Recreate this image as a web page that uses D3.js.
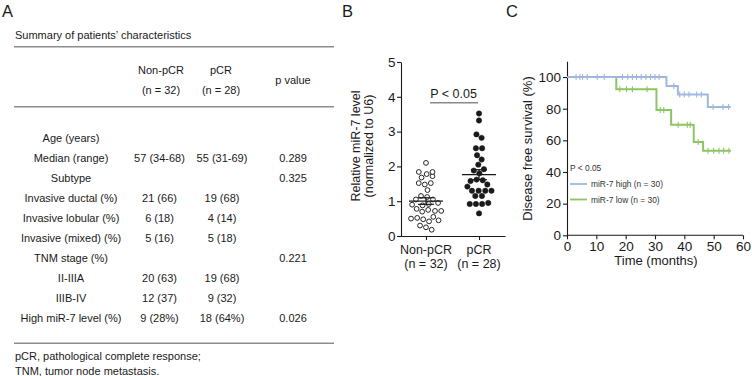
<!DOCTYPE html>
<html>
<head>
<meta charset="utf-8">
<script src="https://cdn.jsdelivr.net/npm/d3@7"></script>
<style>
  html, body { margin: 0; padding: 0; background: #fff; }
  svg { display: block; font-family: "Liberation Sans", Arial, sans-serif; }
</style>
</head>
<body>
<div id="chart"></div>
<script>
//data : panel A table
const tableTitle = "Summary of patients\u2019 characteristics";
const groupHeaders = [["Non-pCR", "(n = 32)"], ["pCR", "(n = 28)"]];
const pHeader = "p value";
const rowLabels = [
  "Age (years)", "Median (range)", "Subtype", "Invasive ductal (%)",
  "Invasive lobular (%)", "Invasive (mixed) (%)", "TNM stage (%)",
  "II-IIIA", "IIIB-IV", "High miR-7 level (%)",
];
const nonPcrCol = ["", "57 (34-68)", "", "21 (66)", "6 (18)", "5 (16)", "", "20 (63)", "12 (37)", "9 (28%)"];
const pcrCol = ["", "55 (31-69)", "", "19 (68)", "4 (14)", "5 (18)", "", "19 (68)", "9 (32)", "18 (64%)"];
const pValueCol = ["", "0.289", "0.325", "", "", "", "0.221", "", "", "0.026"];
const footnotes = ["pCR, pathological complete response;", "TNM, tumor node metastasis."];

//data : panel B scatter
const groups = ["Non-pCR", "pCR"];
const groupN = ["(n = 32)", "(n = 28)"];
const nonPcrValues = [
  2.1, 1.84, 1.78, 1.68, 1.72, 1.84, 1.52, 1.48, 1.52, 1.32, 1.15, 1.12,
  1.05, 1.05, 0.95, 0.92, 0.9, 0.88, 0.72, 0.72, 0.7, 0.75, 0.78, 0.55,
  0.5, 0.45, 0.48, 0.52, 0.42, 0.3, 0.25, 0.18,
];
const pcrValues = [
  3.52, 3.32, 2.92, 2.82, 2.52, 2.52, 2.32, 2.2, 2.05, 1.92, 1.88, 1.8,
  1.62, 1.6, 1.58, 1.48, 1.42, 1.3, 1.3, 1.3, 1.3, 1.15, 1.15, 0.95,
  0.92, 0.92, 0.92, 0.65,
];
const bTicks = [0, 1, 2, 3, 4, 5];
const bSig = "P < 0.05";

//data : panel C kaplan-meier
const highStepTimes = [0, 33.9, 37.8, 48.0];
const highStepSurv = [100, 94.4, 88.9, 81.0];
const highEnd = 55.8;
const highCensor = [3.1, 4.4, 5.3, 6.9, 10.3, 12.7, 18.9, 20.7, 22.3, 23.7, 25.3, 26.9, 28.5, 30.0, 31.4, 36.4, 38.4, 40.0, 41.6, 44.2, 45.8, 49.8, 53.2, 55.1];
const lowStepTimes = [0, 16.8, 30.5, 35.5, 43.2, 46.4];
const lowStepSurv = [100, 92.3, 79.1, 69.9, 58.9, 53.4];
const lowEnd = 55.9;
const lowCensor = [18.0, 20.3, 22.3, 27.3, 31.8, 33.0, 37.9, 41.0, 42.0, 44.7, 48.1, 50.0, 51.8, 53.4, 55.2];
const cXTicks = [0, 10, 20, 30, 40, 50, 60];
const cYTicks = [0, 20, 40, 60, 80, 100];
const legendLabels = ["miR-7 high (n = 30)", "miR-7 low (n = 30)"];
const cSig = "P < 0.05";

const W = 752, H = 376;
const ink = "#1a1a1a";
const blue = "#a0b7df";
const green = "#8cc563";

const svg = d3.select("#chart").append("svg")
  .attr("width", W).attr("height", H)
  .attr("viewBox", `0 0 ${W} ${H}`);

//panel letters
[["A", 2], ["B", 342], ["C", 506]].forEach(([t, x]) => {
  svg.append("text").attr("x", x).attr("y", 17)
    .attr("font-size", 16.5).attr("fill", ink).text(t);
});

//==== panel A ====
const A = svg.append("g").attr("font-size", 11).attr("fill", ink);
const colX = { label: 71, a: 159.5, b: 222, p: 293 };
const ruleColor = "#8c8c8c";

A.append("text").attr("x", 15).attr("y", 38.5).text(tableTitle);
[46.7, 106.7, 343.3].forEach((y) => {
  A.append("line").attr("x1", 14).attr("x2", 334).attr("y1", y).attr("y2", y)
    .attr("stroke", ruleColor).attr("stroke-width", 1.4);
});
groupHeaders.forEach((hd, i) => {
  const t = A.append("text").attr("text-anchor", "middle");
  const cx = i === 0 ? 161 : 221;
  t.append("tspan").attr("x", cx).attr("y", 74).text(hd[0]);
  t.append("tspan").attr("x", cx).attr("y", 94).text(hd[1]);
});
A.append("text").attr("x", colX.p).attr("y", 83.5)
  .attr("text-anchor", "middle").text(pHeader);

const rowY = d3.scaleLinear().domain([0, 1]).range([141.7, 161.7]);
rowLabels.forEach((lab, i) => {
  const y = rowY(i);
  [[lab, colX.label], [nonPcrCol[i], colX.a], [pcrCol[i], colX.b], [pValueCol[i], colX.p]]
    .forEach(([txt, x]) => {
      if (!txt) return;
      A.append("text").attr("x", x).attr("y", y)
        .attr("text-anchor", "middle").text(txt);
    });
});
footnotes.forEach((f, i) => {
  A.append("text").attr("x", 15).attr("y", 360 + i * 14.5).text(f);
});

//==== panel B ====
const B = svg.append("g");
const yB = d3.scaleLinear().domain([0, 5]).range([236, 62]);
const xB = d3.scalePoint().domain(groups).range([400, 505]).padding(0.49);

const yAxB = B.append("g").attr("transform", "translate(401,0)")
  .call(d3.axisLeft(yB).tickValues(bTicks).tickSize(4).tickSizeOuter(0).tickPadding(1.5).tickFormat(d3.format("d")));
const xAxB = B.append("g").attr("transform", "translate(0,236)")
  .call(d3.axisBottom(xB).tickSize(4).tickSizeOuter(0).tickFormat(""));
[yAxB, xAxB].forEach((ax) => {
  ax.select(".domain").attr("stroke", ink).attr("stroke-width", 1.1);
  ax.selectAll(".tick line").attr("stroke", ink).attr("stroke-width", 1.1);
  ax.selectAll("text").attr("font-size", 13.5).attr("fill", ink)
    .attr("font-family", "Liberation Sans, Arial, sans-serif");
});

//group labels
groups.forEach((g, i) => {
  const t = B.append("text").attr("text-anchor", "middle")
    .attr("font-size", 12.5).attr("fill", ink);
  t.append("tspan").attr("x", xB(g)).attr("y", 253.5).text(g);
  t.append("tspan").attr("x", xB(g)).attr("y", 268).text(groupN[i]);
});

//y title
const bTitle = B.append("text").attr("transform", "rotate(-90)")
  .attr("text-anchor", "middle").attr("font-size", 12.5).attr("fill", ink);
bTitle.append("tspan").attr("x", -146).attr("y", 359.5).text("Relative miR-7 level");
bTitle.append("tspan").attr("x", -146).attr("y", 373).text("(normalized to U6)");

//swarm layout: y fixed to value, x pushed apart by collision
function swarm(values, cx) {
  const nodes = values.map((v) => ({ v, x: cx, fy: yB(v), y: yB(v) }));
  const sim = d3.forceSimulation(nodes)
    .force("x", d3.forceX(cx).strength(0.06))
    .force("collide", d3.forceCollide(3.1))
    .stop();
  for (let i = 0; i < 300; i++) sim.tick();
  return nodes;
}

const series = [
  { name: groups[0], values: nonPcrValues, open: true },
  { name: groups[1], values: pcrValues, open: false },
];
series.forEach((s) => {
  const cx = xB(s.name);
  const nodes = swarm(s.values, cx);
  B.append("g").selectAll("circle").data(nodes).join("circle")
    .attr("cx", (d) => d.x).attr("cy", (d) => d.y)
    .attr("r", s.open ? 2.4 : 2.7)
    .attr("fill", s.open ? "white" : ink)
    .attr("stroke", ink).attr("stroke-width", s.open ? 0.95 : 0.5);

  //mean +- sem
  const m = d3.mean(s.values);
  const sem = d3.deviation(s.values) / Math.sqrt(s.values.length);
  const gm = B.append("g").attr("stroke", ink).attr("stroke-width", 1.2);
  gm.append("line").attr("x1", cx - 17).attr("x2", cx + 17).attr("y1", yB(m)).attr("y2", yB(m));
  gm.append("line").attr("x1", cx).attr("x2", cx).attr("y1", yB(m - sem)).attr("y2", yB(m + sem));
  [m - sem, m + sem].forEach((v) => {
    gm.append("line").attr("x1", cx - 8).attr("x2", cx + 8).attr("y1", yB(v)).attr("y2", yB(v));
  });
});

//significance bar
B.append("line").attr("x1", xB(groups[0]) + 4).attr("x2", xB(groups[1]) - 1)
  .attr("y1", 102.7).attr("y2", 102.7).attr("stroke", "#8a8a8a").attr("stroke-width", 1.6);
B.append("text").attr("x", (xB(groups[0]) + xB(groups[1])) / 2 + 1).attr("y", 97.5)
  .attr("text-anchor", "middle").attr("font-size", 12.5).attr("fill", ink).text(bSig);

//==== panel C ====
const C = svg.append("g");
const xC = d3.scaleLinear().domain([0, 60]).range([567, 743]);
const yC = d3.scaleLinear().domain([0, 110]).range([235.3, 61.2]);

const yAxC = C.append("g").attr("transform", "translate(567,0)")
  .call(d3.axisLeft(yC).tickValues(cYTicks).tickSize(4).tickSizeOuter(0).tickPadding(2));
const xAxC = C.append("g").attr("transform", "translate(0,235.3)")
  .call(d3.axisBottom(xC).tickValues(cXTicks).tickSize(4).tickSizeOuter(0).tickPadding(2));
[yAxC, xAxC].forEach((ax) => {
  ax.select(".domain").attr("stroke", ink).attr("stroke-width", 1.1);
  ax.selectAll(".tick line").attr("stroke", ink).attr("stroke-width", 1.1);
  ax.selectAll("text").attr("font-size", 13.5).attr("fill", ink)
    .attr("font-family", "Liberation Sans, Arial, sans-serif");
});
xAxC.select(".domain").attr("d", `M567,0H${xC(60)}`);

C.append("text").attr("x", 656).attr("y", 264.5).attr("text-anchor", "middle")
  .attr("font-size", 13).attr("fill", ink).text("Time (months)");
C.append("text").attr("transform", "rotate(-90)").attr("x", -148.5).attr("y", 531.5)
  .attr("text-anchor", "middle").attr("font-size", 13).attr("fill", ink)
  .text("Disease free survival (%)");

//step curve from step times + survival
function kmPoints(times, surv, end) {
  const pts = times.map((t, i) => [t, surv[i]]);
  pts.push([end, surv[surv.length - 1]]);
  return pts;
}
function survAt(times, surv, t) {
  const i = d3.bisectRight(times, t) - 1;
  return surv[Math.max(0, i)];
}
const stepLine = d3.line().x((d) => xC(d[0])).y((d) => yC(d[1])).curve(d3.curveStepAfter);

const curves = [
  { times: lowStepTimes, surv: lowStepSurv, end: lowEnd, cens: lowCensor, color: green },
  { times: highStepTimes, surv: highStepSurv, end: highEnd, cens: highCensor, color: blue },
];
curves.forEach((c) => {
  C.append("path").datum(kmPoints(c.times, c.surv, c.end))
    .attr("d", stepLine).attr("fill", "none")
    .attr("stroke", c.color).attr("stroke-width", 2);
  C.append("g").selectAll("line").data(c.cens).join("line")
    .attr("x1", (d) => xC(d)).attr("x2", (d) => xC(d))
    .attr("y1", (d) => yC(survAt(c.times, c.surv, d)) - 3)
    .attr("y2", (d) => yC(survAt(c.times, c.surv, d)) + 3)
    .attr("stroke", c.color).attr("stroke-width", 1.1);
});

//legend
const L = C.append("g").attr("font-size", 8.4).attr("fill", "#333");
L.append("text").attr("x", 570).attr("y", 170.5).text(cSig);
[[blue, legendLabels[0], 184], [green, legendLabels[1], 199.5]].forEach(([col, txt, y]) => {
  L.append("line").attr("x1", 570).attr("x2", 587).attr("y1", y).attr("y2", y)
    .attr("stroke", col).attr("stroke-width", 1.8);
  L.append("text").attr("x", 591).attr("y", y + 3).text(txt);
});
</script>
</body>
</html>
